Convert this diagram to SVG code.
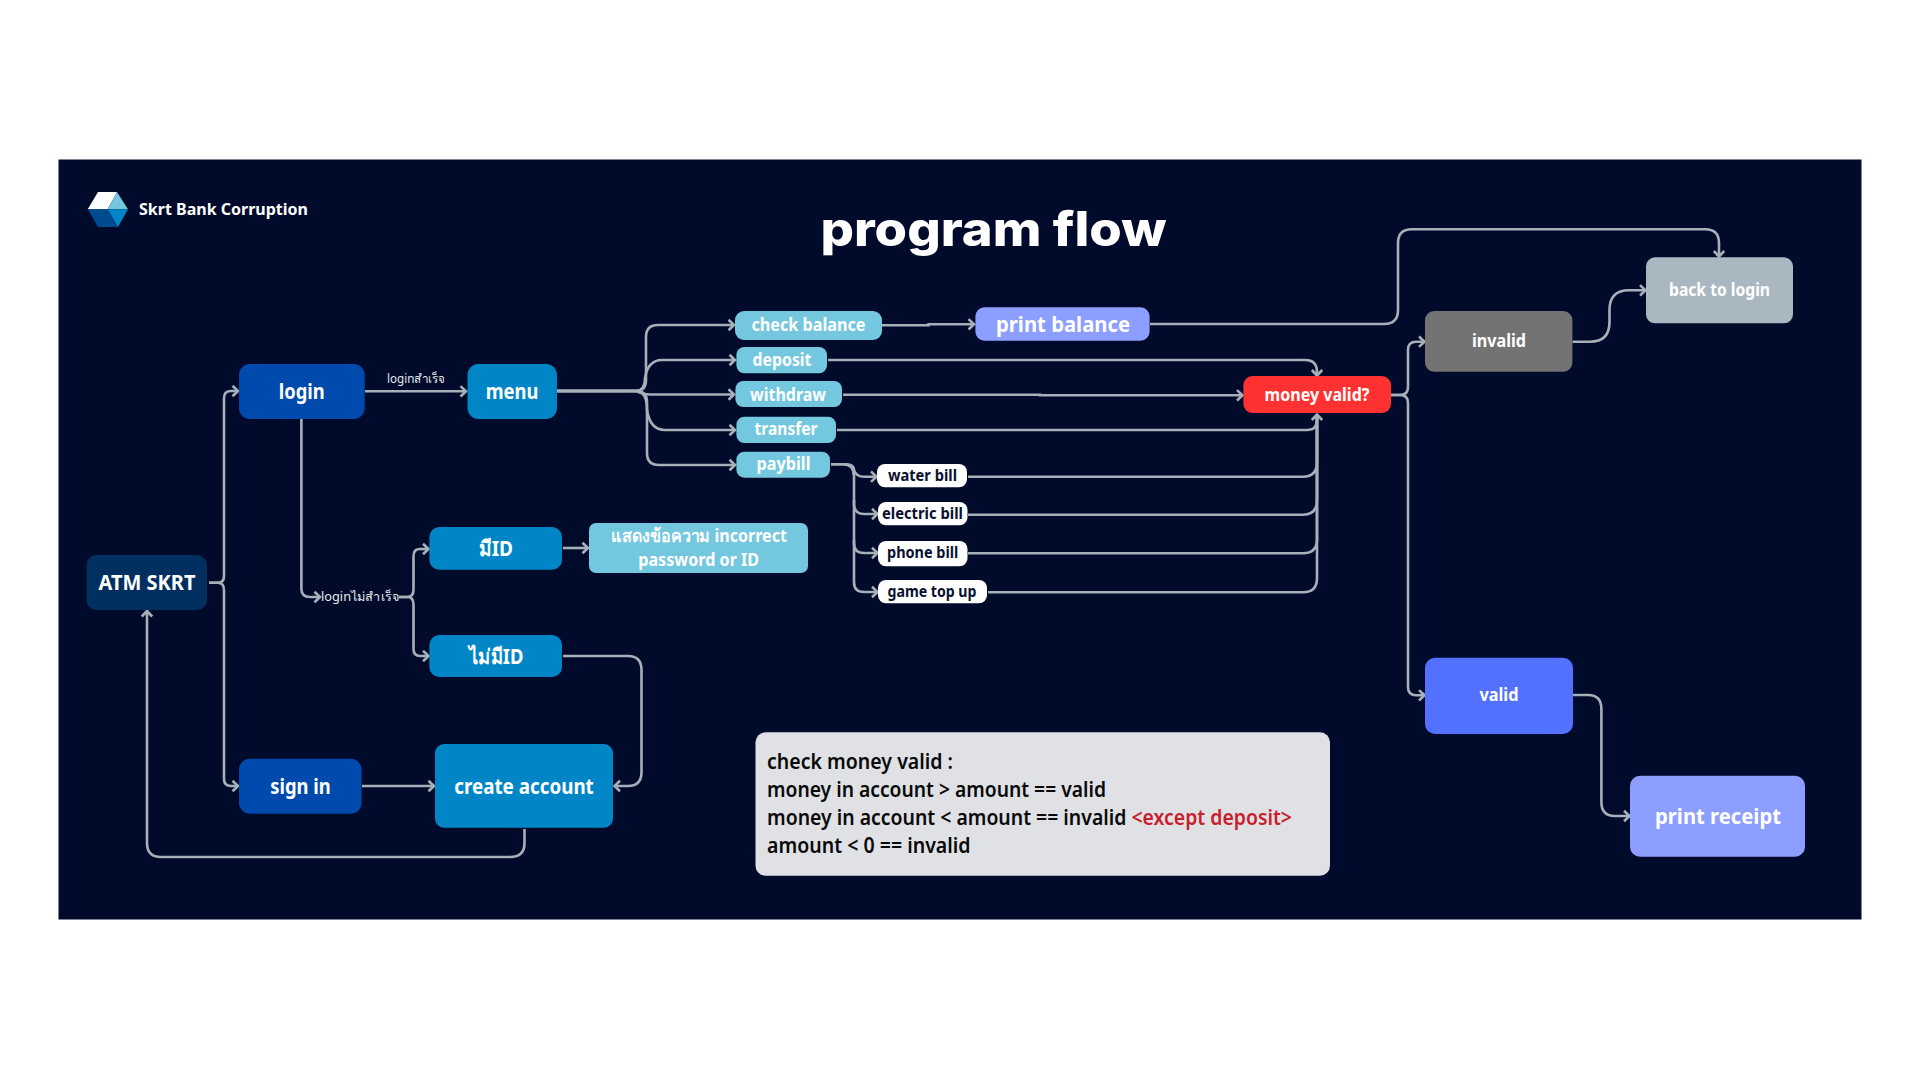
<svg xmlns="http://www.w3.org/2000/svg" width="1920" height="1080" viewBox="0 0 1920 1080">
<style>
text{font-family:"Noto Sans","Open Sans","DejaVu Sans",sans-serif;font-weight:700;fill:#fff;text-anchor:middle}
.s22{font-size:21px}.s19{font-size:18px}.s16{font-size:15.5px}.s24{font-size:22px}
.lab{font-size:12.5px;font-weight:400;fill:#e4e8ea}
.note{font-size:21px;font-weight:600;fill:#0a0a0a;text-anchor:start}
.c path{fill:none;stroke:#a6b0b8;stroke-width:2.6;marker-end:url(#a)}
.c path.n{marker-end:none}
</style>
<defs>
<marker id="a" markerUnits="userSpaceOnUse" markerWidth="14" markerHeight="14" viewBox="0 0 14 14" refX="12" refY="7" orient="auto">
<path d="M6.5,1.8 L12,7 L6.5,12.2" fill="none" stroke="#a6b0b8" stroke-width="2.6"/>
</marker>
</defs>
<rect width="1920" height="1080" fill="#fff"/>
<rect id="panel" x="58.5" y="159.5" width="1803" height="760" fill="#000a2b"/>
<g id="logo">
<polygon points="98,192 117,192 107.7,209.3 87.7,209.3" fill="#fff"/>
<polygon points="117,192 128,209.3 107.7,209.3" fill="#73c7de"/>
<polygon points="87.7,209.3 107.7,209.3 118,227 98,227" fill="#004a8f"/>
<polygon points="107.7,209.3 128,209.3 118,227" fill="#0086c6"/>
<text x="139" y="214.5" font-size="16.5" style="text-anchor:start" textLength="169" lengthAdjust="spacingAndGlyphs">Skrt Bank Corruption</text>
</g>
<text id="title" x="993.5" y="246" font-size="47.6" style="font-family:Inter,'Noto Sans',sans-serif;font-weight:800" textLength="346" lengthAdjust="spacingAndGlyphs">program flow</text>
<g id="connectors" class="c">
<path d="M365,391.3H466"/>
<path d="M209,582.7H218Q224,582.7 224,576V398Q224,391 231,391H238"/>
<path d="M209,582.7H218Q224,582.7 224,590V779Q224,786 231,786H238"/>
<path d="M301.4,419V589Q301.4,597 310,597H320"/>
<path class="n" d="M399,597H407Q413.5,597 413.5,590V556Q413.5,549 420,549"/>
<path d="M420,549H428.5"/>
<path d="M399,597H407Q413.5,597 413.5,604V649Q413.5,656 420,656H428.5"/>
<path d="M563,548H588"/>
<path d="M563,656H628Q641.5,656 641.5,670V772Q641.5,786 628,786H614.5"/>
<path d="M362,786H434"/>
<path d="M524.5,829V843Q524.5,857 510,857H161Q147,857 147,843V611"/>
<path d="M557,391H636Q646,391 646,380V337Q646,325 658,325H734"/>
<path d="M557,391H636Q645,391 645,378Q648,360 662,360H735"/>
<path d="M557,391H636Q642,394.5 650,394.5H734"/>
<path d="M557,391H636Q647,391 647,410Q650,430 665,430H735"/>
<path d="M557,391H636Q647,391 647,402V453Q647,465 659,465H735"/>
<path d="M882,325.3H928.6V324.3H974"/>
<path d="M1150,324H1384Q1398,324 1398,310V243Q1398,229.3 1412,229.3H1705Q1719,229.3 1719,243V256.5"/>
<path d="M828,360H1305Q1317,360 1317,372V375.5"/>
<path d="M843,394.7H1040V395.3H1242.5"/>
<path class="n" d="M837,430H1307Q1317,430 1317,420V414"/>
<path class="n" d="M968,476.7H1303Q1317,476.7 1317,462V416"/>
<path class="n" d="M968,514.7H1303Q1317,514.7 1317,500V416"/>
<path class="n" d="M968,553.3H1303Q1317,553.3 1317,539V416"/>
<path d="M988,592.3H1303Q1317,592.3 1317,578V414.5"/>
<path class="n" d="M831,464.3H843Q854,464.3 854,474"/>
<path d="M846,464.3Q854,464.3 854,470Q856,476.7 864,476.7H876.5"/>
<path d="M831,464.3H843Q854,464.3 854,476V504Q854,514 864,514H877.5"/>
<path d="M854,500V543Q854,553 864,553H877.5"/>
<path d="M854,540V582Q854,592 864,592H877.5"/>
<path d="M1391,395H1400Q1408,395 1408,387V350Q1408,341.7 1416,341.7H1424.5"/>
<path d="M1391,395H1400Q1408,395 1408,403V687Q1408,695.3 1416,695.3H1424.5"/>
<path d="M1572.5,341.7H1590Q1609.5,341.7 1609.5,322V310Q1609.5,290.3 1629,290.3H1645.5"/>
<path d="M1573,695H1588Q1601.4,695 1601.4,709V802Q1601.4,816 1615,816H1629.5"/>
</g>
<g id="n-login"><rect x="239" y="364" width="125.7" height="55" rx="11" fill="#004aad"/><text class="s22" x="301.7" y="399" textLength="46" lengthAdjust="spacingAndGlyphs">login</text></g>
<g id="n-menu"><rect x="467.5" y="364" width="89.5" height="55" rx="11" fill="#0086c6"/><text class="s22" x="512" y="399" textLength="52.6" lengthAdjust="spacingAndGlyphs">menu</text></g>
<g id="n-atm"><rect x="86.5" y="555" width="120.5" height="55" rx="10" fill="#012f5f"/><text class="s22" x="147" y="590" textLength="97" lengthAdjust="spacingAndGlyphs">ATM SKRT</text></g>
<g id="n-signin"><rect x="239" y="758.7" width="122.6" height="55" rx="11" fill="#004aad"/><text class="s22" x="300.5" y="794" textLength="60.4" lengthAdjust="spacingAndGlyphs">sign in</text></g>
<g id="n-create"><rect x="435" y="744" width="178" height="83.7" rx="9" fill="#0086c6"/><text class="s22" x="524" y="794" textLength="139.6" lengthAdjust="spacingAndGlyphs">create account</text></g>
<g id="n-hasid"><rect x="429.4" y="527" width="132.6" height="42.7" rx="10" fill="#0086c6"/><text class="s22" x="496" y="556" textLength="34" lengthAdjust="spacingAndGlyphs">มีID</text></g>
<g id="n-noid"><rect x="429.4" y="635" width="132.6" height="42" rx="10" fill="#0086c6"/><text class="s22" x="496" y="664" textLength="54.7" lengthAdjust="spacingAndGlyphs">ไม่มีID</text></g>
<g id="n-msg"><rect x="589" y="523" width="219" height="50" rx="7" fill="#73c7de"/><text class="s19" x="699" y="542" textLength="176" lengthAdjust="spacingAndGlyphs">แสดงข้อความ incorrect</text><text class="s19" x="698.7" y="566" textLength="121" lengthAdjust="spacingAndGlyphs">password or ID</text></g>
<g id="n-check"><rect x="735" y="311" width="147" height="29" rx="9" fill="#73c7de"/><text class="s19" x="808.5" y="331" textLength="114" lengthAdjust="spacingAndGlyphs">check balance</text></g>
<g id="n-printbal"><rect x="975.4" y="307.3" width="174.2" height="33.4" rx="9" fill="#8c9eff"/><text class="s24" x="1063" y="332" textLength="134" lengthAdjust="spacingAndGlyphs">print balance</text></g>
<g id="n-deposit"><rect x="736.4" y="347" width="90.6" height="26.3" rx="8" fill="#73c7de"/><text class="s19" x="782" y="366" textLength="59" lengthAdjust="spacingAndGlyphs">deposit</text></g>
<g id="n-withdraw"><rect x="735.4" y="381" width="106.6" height="26" rx="8" fill="#73c7de"/><text class="s19" x="788" y="400.5" textLength="76" lengthAdjust="spacingAndGlyphs">withdraw</text></g>
<g id="n-transfer"><rect x="736.4" y="416.7" width="99.6" height="26.3" rx="8" fill="#73c7de"/><text class="s19" x="786" y="435" textLength="63" lengthAdjust="spacingAndGlyphs">transfer</text></g>
<g id="n-paybill"><rect x="736.4" y="451.7" width="93.6" height="26" rx="8" fill="#73c7de"/><text class="s19" x="783.5" y="470" textLength="54" lengthAdjust="spacingAndGlyphs">paybill</text></g>
<g id="n-water"><rect x="877" y="464" width="90" height="23.3" rx="8" fill="#fff"/><text class="s16" style="fill:#0a1130" x="922.5" y="481" textLength="69" lengthAdjust="spacingAndGlyphs">water bill</text></g>
<g id="n-electric"><rect x="878" y="502" width="89.5" height="23.3" rx="8" fill="#fff"/><text class="s16" style="fill:#0a1130" x="922.5" y="519" textLength="81" lengthAdjust="spacingAndGlyphs">electric bill</text></g>
<g id="n-phone"><rect x="878" y="541" width="89.5" height="25.3" rx="8" fill="#fff"/><text class="s16" style="fill:#0a1130" x="922.7" y="558" textLength="71.4" lengthAdjust="spacingAndGlyphs">phone bill</text></g>
<g id="n-game"><rect x="878" y="580" width="109" height="23.3" rx="8" fill="#fff"/><text class="s16" style="fill:#0a1130" x="932" y="597" textLength="89" lengthAdjust="spacingAndGlyphs">game top up</text></g>
<g id="n-money"><rect x="1243.4" y="376" width="147.6" height="37" rx="9" fill="#ff3131"/><text class="s19" x="1317" y="401" textLength="105" lengthAdjust="spacingAndGlyphs">money valid?</text></g>
<g id="n-invalid"><rect x="1425" y="311" width="147.4" height="60.7" rx="9" fill="#737373"/><text class="s19" x="1499" y="347" textLength="54" lengthAdjust="spacingAndGlyphs">invalid</text></g>
<g id="n-back"><rect x="1646" y="257.3" width="147" height="66" rx="9" fill="#a9b8c0"/><text class="s19" x="1719.5" y="296" textLength="101" lengthAdjust="spacingAndGlyphs">back to login</text></g>
<g id="n-valid"><rect x="1425" y="657.7" width="148" height="76.3" rx="10" fill="#5271ff"/><text class="s19" x="1499" y="701" textLength="39" lengthAdjust="spacingAndGlyphs">valid</text></g>
<g id="n-receipt"><rect x="1630" y="775.7" width="175" height="81" rx="10" fill="#8c9eff"/><text class="s22" x="1718" y="824" textLength="126" lengthAdjust="spacingAndGlyphs">print receipt</text></g>
<g id="n-note"><rect x="755.5" y="732.3" width="574.5" height="143.4" rx="10" fill="#e0e1e5"/>
<text class="note" x="767" y="768.7" textLength="186" lengthAdjust="spacingAndGlyphs">check money valid :</text>
<text class="note" x="767" y="796.7" textLength="339" lengthAdjust="spacingAndGlyphs">money in account &gt; amount == valid</text>
<text class="note" x="767" y="824.7" textLength="525" lengthAdjust="spacingAndGlyphs">money in account &lt; amount == invalid <tspan style="fill:#c81e2d">&lt;except deposit&gt;</tspan></text>
<text class="note" x="767" y="852.7" textLength="203.6" lengthAdjust="spacingAndGlyphs">amount &lt; 0 == invalid</text></g>
<g id="labels"><text class="lab" x="416" y="383" textLength="58" lengthAdjust="spacingAndGlyphs">loginสำเร็จ</text><text class="lab" x="360" y="601" textLength="78" lengthAdjust="spacingAndGlyphs">loginไม่สำเร็จ</text></g>
</svg>
